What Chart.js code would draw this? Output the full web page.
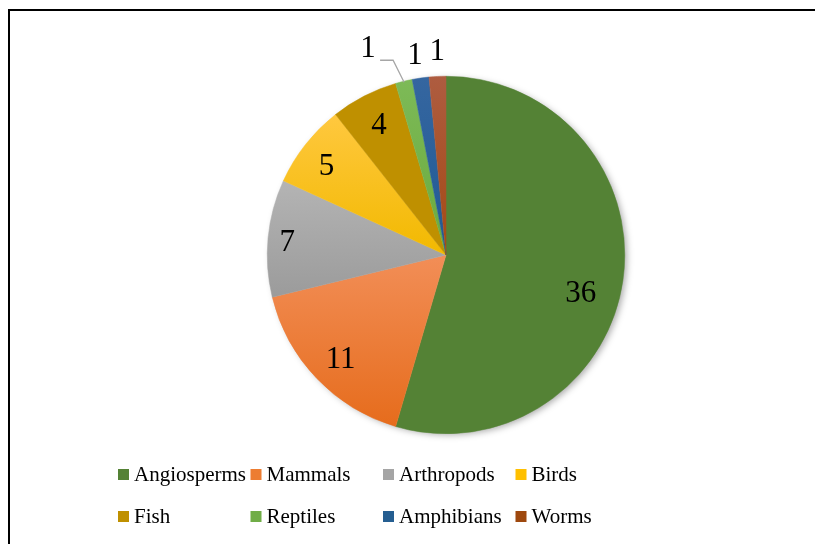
<!DOCTYPE html>
<html>
<head>
<meta charset="utf-8">
<script src="https://cdn.jsdelivr.net/npm/chart.js@4/dist/chart.umd.min.js"></script>
<style>
  html, body { margin: 0; padding: 0; background: #fff; }
  #wrap { width: 815px; height: 544px; position: relative; }
</style>
</head>
<body>
<div id="wrap"><canvas id="pie" width="815" height="544"></canvas></div>
<script>
// taxa counts, clockwise from 12 o'clock
const taxa   = ['Angiosperms', 'Mammals', 'Arthropods', 'Birds', 'Fish', 'Reptiles', 'Amphibians', 'Worms'];
const counts = [36, 11, 7, 5, 4, 1, 1, 1];

// office-ish palette: [top, bottom] of each slice gradient
const shadeTop = ['#548235', '#F28E57', '#B4B4B4', '#FFC83F', '#BF9000', '#7DBA57', '#3566A0', '#AE5C40'];
const shadeBot = ['#548235', '#E66C1C', '#9B9B9B', '#F2B900', '#BF9000', '#6AAA3E', '#205A94', '#A44A14'];
const swatch   = ['#548235', '#ED7D31', '#A5A5A5', '#FFC000', '#BF9000', '#70AD47', '#255E91', '#9E480E'];

const SERIF = '"Liberation Serif", "Times New Roman", serif';

// nudges for the value labels (px), Excel "best fit" isn't exactly mid-angle
const labelNudge = [[-12, 18], [2, 2], [-11, 2], [-3, 4], [1, 3], [0, -2], [-2, 3], [1, 0]];

const sliceShading = {
  id: 'sliceShading',
  beforeDatasetsDraw(chart) {
    const meta = chart.getDatasetMeta(0);
    const ctx = chart.ctx;
    const first = meta.data[0];
    if (!first) return;
    // soft drop shadow under the whole pie
    ctx.save();
    ctx.shadowColor = 'rgba(0,0,0,0.35)';
    ctx.shadowBlur = 7;
    ctx.shadowOffsetX = 3;
    ctx.shadowOffsetY = 2;
    ctx.fillStyle = '#fff';
    ctx.beginPath();
    ctx.arc(first.x, first.y, first.outerRadius - 1, 0, Math.PI * 2);
    ctx.fill();
    ctx.restore();

    meta.data.forEach((arc, i) => {
      const r = arc.outerRadius;
      // vertical extent of the slice
      const ys = [arc.y];
      const steps = 24;
      for (let k = 0; k <= steps; k++) {
        const a = arc.startAngle + (arc.endAngle - arc.startAngle) * k / steps;
        ys.push(arc.y + Math.sin(a) * r);
      }
      const y0 = Math.min(...ys), y1 = Math.max(...ys);
      const g = ctx.createLinearGradient(0, y0, 0, y1 + 0.01);
      g.addColorStop(0, shadeTop[i]);
      g.addColorStop(1, shadeBot[i]);
      arc.options.backgroundColor = g;
      arc.options.borderColor = g;
    });
  }
};

const valueLabels = {
  id: 'valueLabels',
  afterDatasetsDraw(chart) {
    const meta = chart.getDatasetMeta(0);
    const ctx = chart.ctx;
    ctx.save();
    ctx.fillStyle = '#000';
    ctx.textAlign = 'center';
    ctx.textBaseline = 'middle';
    ctx.font = '31px ' + SERIF;
    meta.data.forEach((arc, i) => {
      const mid = (arc.startAngle + arc.endAngle) / 2;
      const r = arc.outerRadius;
      let x, y;
      if (counts[i] >= 3) {
        x = arc.x + Math.cos(mid) * r * 0.83;
        y = arc.y + Math.sin(mid) * r * 0.83;
      } else if (i === 5) {
        // pulled to the left with a leader line
        const ex = arc.x + Math.cos(mid) * (r - 1);
        const ey = arc.y + Math.sin(mid) * (r - 1);
        x = ex - 36;
        y = ey - 31;
        ctx.strokeStyle = '#A6A6A6';
        ctx.lineWidth = 1.3;
        ctx.beginPath();
        ctx.moveTo(x + 12, y + 9);
        ctx.lineTo(x + 25, y + 9);
        ctx.lineTo(ex, ey);
        ctx.stroke();
      } else {
        x = arc.x + Math.cos(mid) * (r + 25);
        y = arc.y + Math.sin(mid) * (r + 25);
      }
      ctx.fillText(String(counts[i]), x + labelNudge[i][0], y + labelNudge[i][1]);
    });
    ctx.restore();
  }
};

const frameAndLegend = {
  id: 'frameAndLegend',
  afterDraw(chart) {
    const ctx = chart.ctx;
    ctx.save();
    // chart frame (right and bottom sides are cut off in the original)
    ctx.strokeStyle = '#000';
    ctx.lineWidth = 2;
    ctx.beginPath();
    ctx.moveTo(9, 560);
    ctx.lineTo(9, 10);
    ctx.lineTo(830, 10);
    ctx.stroke();

    // legend: 4 columns x 2 rows
    ctx.font = '21px ' + SERIF;
    ctx.textBaseline = 'middle';
    ctx.textAlign = 'left';
    taxa.forEach((name, i) => {
      const col = i % 4, row = Math.floor(i / 4);
      const x = 118 + col * 132.5;
      const y = 474 + row * 42;
      ctx.fillStyle = swatch[i];
      ctx.fillRect(x, y - 5, 11, 11);
      ctx.fillStyle = '#000';
      ctx.fillText(name, x + 16, y + 1);
    });
    ctx.restore();
  }
};

new Chart(document.getElementById('pie'), {
  type: 'pie',
  data: {
    labels: taxa,
    datasets: [{
      data: counts,
      backgroundColor: swatch,
      borderWidth: 0.5,
      borderColor: swatch,
    }],
  },
  options: {
    responsive: false,
    animation: false,
    layout: { padding: { left: 267, right: 190, top: 76, bottom: 110 } },
    plugins: {
      legend: { display: false },
      tooltip: { enabled: false },
    },
  },
  plugins: [sliceShading, valueLabels, frameAndLegend],
});
</script>
</body>
</html>
